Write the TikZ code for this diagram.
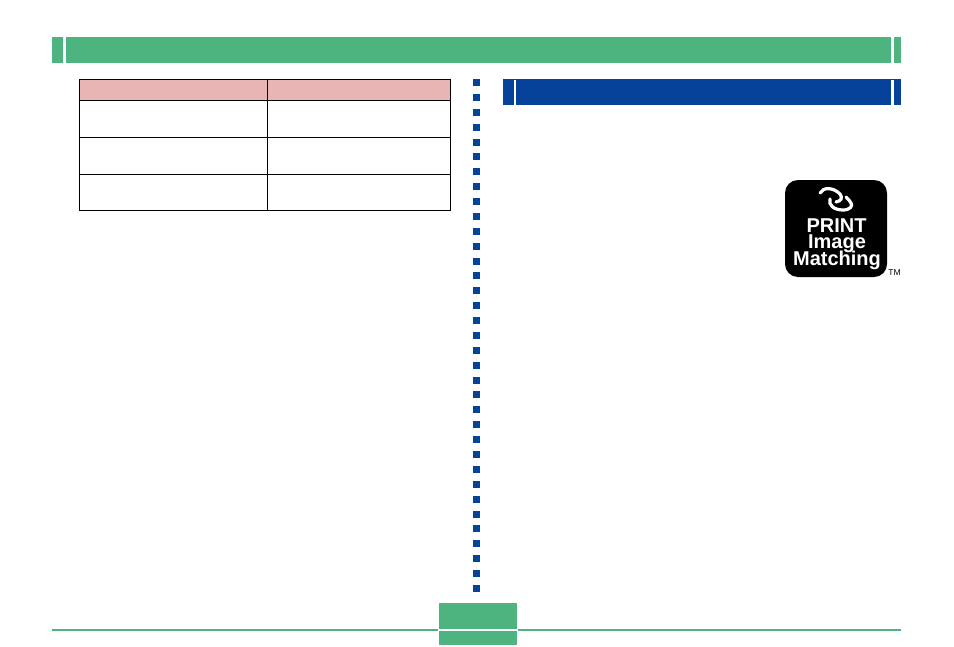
\documentclass[tikz,border=0pt]{standalone}
\usepackage{fontspec}
\setmainfont{Liberation Sans}
\usetikzlibrary{positioning}
\definecolor{pageGreen}{RGB}{78, 180, 127}
\definecolor{pageBlue}{RGB}{6, 66, 153}
\definecolor{headPink}{RGB}{232, 180, 180}
\tikzset{
  block/.style={anchor=north west, inner sep=0pt, outer sep=0pt},
  cell/.style={block, draw=black, line width=1pt},
  swirl/.style={white, line width=3.2pt, line cap=round},
  logotext/.style={anchor=base, text=white, inner sep=0pt, font=\fontsize{20}{20}\selectfont\bfseries}
}
\begin{document}
\begin{tikzpicture}[x=1pt,y=-1pt]
        \useasboundingbox (0,0) rectangle (954,646);
        % Top bar
        \node[block, fill=pageGreen, minimum width=11pt, minimum height=26pt] (top_left) at (52,37) {};
        \node[block, fill=pageGreen, minimum width=825pt, minimum height=26pt] (top_main) at (66,37) {};
        \node[block, fill=pageGreen, minimum width=7pt, minimum height=26pt] (top_right) at (894,37) {};

        % Table
        \node[cell, fill=headPink, minimum width=188pt, minimum height=21pt] (head_a) at (79.5,79.5) {};
        \node[cell, fill=headPink, minimum width=183pt, minimum height=21pt] (head_b) at (267.5,79.5) {};
        \node[cell, minimum width=188pt, minimum height=37pt] (row1_a) at (79.5,100.5) {};
        \node[cell, minimum width=183pt, minimum height=37pt] (row1_b) at (267.5,100.5) {};
        \node[cell, minimum width=188pt, minimum height=37pt] (row2_a) at (79.5,137.5) {};
        \node[cell, minimum width=183pt, minimum height=37pt] (row2_b) at (267.5,137.5) {};
        \node[cell, minimum width=188pt, minimum height=36pt] (row3_a) at (79.5,174.5) {};
        \node[cell, minimum width=183pt, minimum height=36pt] (row3_b) at (267.5,174.5) {};

        % Dotted divider
        \foreach \i in {0,...,34}
            \fill[pageBlue] (473,79+14.88*\i) rectangle ++(7,7);

        % Blue heading
        \node[block, fill=pageBlue, minimum width=398pt, minimum height=26pt] (sec_bar) at (503,79) {};
        \node[block, fill=white, minimum width=2pt, minimum height=25pt] (sec_gap_l) at (514,80) {};
        \node[block, fill=white, minimum width=3pt, minimum height=25pt] (sec_gap_r) at (891,80) {};

        % Logo
        \node[block, fill=black, rounded corners=13pt, minimum width=102pt, minimum height=97pt] (logo) at (785,180) {};
        \draw[swirl] (820,193) .. controls (823,187) and (833,187) .. (840,194) .. controls (843,198) and (841,201) .. (836,202);
        \draw[swirl] (830,199) .. controls (828,205) and (834,210) .. (843,210) .. controls (850,210) and (853,206) .. (851,203) .. controls (850,201) and (848,199) .. (846,197);
        \node[logotext] (logo_print) at (836.5,232) {PRINT};
        \node[logotext] (logo_image) at (837,248.5) {Image};
        \node[logotext] (logo_match) at (837,265.5) {Matching};
        \node[inner sep=0pt, font=\fontsize{8.5}{9}\selectfont] (logo_tm) at (894.5,273) {TM};

        % Footer
        \node[block, fill=pageGreen, minimum width=386pt, minimum height=2pt] (foot_l) at (52,629) {};
        \node[block, fill=pageGreen, minimum width=78pt, minimum height=26pt] (page_up) at (439,603) {};
        \node[block, fill=pageGreen, minimum width=78pt, minimum height=14pt] (page_dn) at (439,631) {};
        \node[block, fill=pageGreen, minimum width=383pt, minimum height=2pt] (foot_r) at (518,629) {};
\end{tikzpicture}
\end{document}
